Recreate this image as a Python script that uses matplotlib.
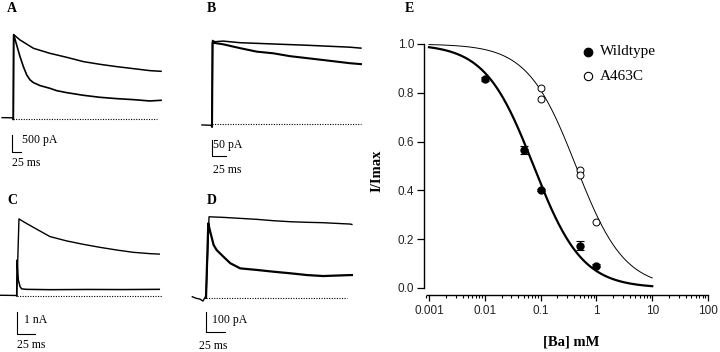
import matplotlib.pyplot as plt
from matplotlib.lines import Line2D
import numpy as np

plt.rcParams['font.family'] = ['Liberation Serif', 'DejaVu Serif']

# ---------------- traces (time in ms, current in pA) ----------------
# A
a_pre_t = [-30, -3, 0]
a_pre_i = [50, 45, 0]
a_slow_t = [0, 1, 18, 54, 98, 143, 188, 232, 277, 322, 366, 396]
a_slow_i = [0, 2540, 2380, 2130, 1980, 1860, 1730, 1650, 1580, 1520, 1460, 1440]
a_fast_t = [0, 1, 9, 18, 27, 36, 45, 54, 72, 98, 116, 143, 188, 232, 277, 322, 366, 396]
a_fast_i = [0, 2540, 2230, 1880, 1580, 1330, 1180, 1100, 1010, 930, 860, 800, 720, 660, 620, 590, 550, 570]
a_base_end = 385

# B
b_pre_t = [-18, -2, 0]
b_pre_i = [-2, -3, -7]
b_upper_t = [0, 1, 5, 20, 50, 109, 170, 246, 266]
b_upper_i = [-7, 262, 258, 260, 255, 251, 247, 241, 238]
b_lower_t = [0, 1, 5, 20, 50, 80, 109, 139, 198, 246, 266]
b_lower_i = [-7, 255, 254, 250, 238, 227, 222, 213, 201, 191, 188]
b_base_end = 266

# C
c_pre_t = [-24, -1, 0]
c_pre_i = [20, 10, 0]
c_upper_t = [0, 3.2, 9.3, 23.4, 47, 70.5, 94, 117, 141, 164, 188, 201]
c_upper_i = [0, 3380, 3260, 3010, 2600, 2410, 2260, 2130, 2010, 1910, 1850, 1830]
c_lower_t = [0, 0.5, 2.3, 4.7, 7, 14, 47, 100, 150, 201]
c_lower_i = [0, 1570, 690, 400, 300, 280, 265, 275, 270, 280]
c_base_end = 205

# D
d_pre_t = [-18, -13, -8, -4, -1, 0]
d_pre_i = [5, -3, -7, -17, 3, 0]
d_upper_t = [0, 4, 23, 45, 67, 89, 111, 133, 154, 190, 192]
d_upper_i = [0, 411, 408, 403, 398, 391, 386, 383, 381, 374, 372]
d_lower_t = [0, 3, 5, 10, 14, 23, 32, 45, 67, 89, 111, 133, 154, 190, 192]
d_lower_i = [0, 378, 344, 268, 242, 208, 175, 149, 141, 132, 124, 115, 110, 115, 115]
d_base_end = 186

# ---------------- dose response (E) ----------------
wt_conc = [0.01, 0.05, 0.1, 0.5, 1.0]
wt_frac = [0.855, 0.565, 0.402, 0.174, 0.092]
wt_err = [0.008, 0.015, 0.005, 0.018, 0.005]
mut_conc = [0.1, 0.1, 0.5, 0.5, 1.0]
mut_frac = [0.82, 0.775, 0.485, 0.465, 0.272]
wt_k, wt_n = 0.075, 1.0     # Hill fit
mut_k, mut_n = 0.43, 1.0
fit_range = (0.001, 10)

W, H = 720, 352
fig = plt.figure(figsize=(W / 100, H / 100), dpi=100)


def trace_axes(box, x0, y0, ms_px, pa_px):
    l, t, r, b = box
    ax = fig.add_axes([l / W, 1 - b / H, (r - l) / W, (b - t) / H])
    ax.set_xlim((l - x0) * ms_px, (r - x0) * ms_px)
    ax.set_ylim((y0 - b) * pa_px, (y0 - t) * pa_px)
    ax.axis('off')
    return ax


def draw_panel(ax, pre_t, pre_i, traces, base_end, bar, amp_txt, amp_off, time_off):
    ax.plot(pre_t, pre_i, color='k', lw=1.0)
    for t, i, lw in traces:
        ax.plot(t, i, color='k', lw=lw, solid_joinstyle='round')
    ax.plot([0, base_end], [0, 0], color='k', lw=0.8, linestyle=(0, (1, 1.3)))
    bx, by, amp = bar
    ax.plot([bx, bx, bx + 25], [by + amp, by, by], color='k', lw=0.8, clip_on=False)
    ax.annotate(amp_txt, xy=(bx, by), xytext=(amp_off[0] * 0.72, amp_off[1] * 0.72),
                textcoords='offset points', ha='left', va='center', fontsize=8.5,
                annotation_clip=False)
    ax.annotate('25 ms', xy=(bx, by), xytext=(time_off[0] * 0.72, time_off[1] * 0.72),
                textcoords='offset points', ha='left', va='center', fontsize=8.5,
                annotation_clip=False)


ax_a = trace_axes((0, 25, 175, 125), 13.3, 119.3, 2.68, 30)
draw_panel(ax_a, a_pre_t, a_pre_i,
           [(a_slow_t, a_slow_i, 1.1), (a_fast_t, a_fast_i, 1.2)],
           a_base_end, (-3.5, -970, 500), '500 pA', (9.7, 11.7), (0, -11.3))

ax_b = trace_axes((195, 25, 375, 130), 212, 124.3, 1.786, 3.125)
draw_panel(ax_b, b_pre_t, b_pre_i,
           [(b_upper_t, b_upper_i, 1.1), (b_lower_t, b_lower_i, 1.5)],
           b_base_end, (0.5, -100, 50), '50 pA', (1, 11), (0.4, -13.3))

ax_c = trace_axes((0, 205, 175, 300), 16.7, 295.7, 1.41, 44)
draw_panel(ax_c, c_pre_t, c_pre_i,
           [(c_upper_t, c_upper_i, 1.0), (c_lower_t, c_lower_i, 1.1)],
           c_base_end, (0.8, -1700, 1000), '1 nA', (6.7, 14.3), (0, -10.7))

ax_d = trace_axes((190, 205, 365, 302), 206, 297.7, 1.316, 5.08)
draw_panel(ax_d, d_pre_t, d_pre_i,
           [(d_upper_t, d_upper_i, 1.0), (d_lower_t, d_lower_i, 1.6)],
           d_base_end, (0, -175, 100), '100 pA', (5.7, 12.3), (-7, -13.4))

# panel letters
for letter, x, y in [('A', 7, 8), ('B', 207, 8), ('C', 7, 200), ('D', 207, 201), ('E', 405, 8)]:
    fig.text(x / W, 1 - y / H, letter, fontsize=10, fontweight='bold', ha='left', va='center')

# ---------------- panel E ----------------
ax = fig.add_axes([424 / W, 1 - 288 / H, 284 / W, 248 / H])
ax.set_xscale('log')
ax.set_xlim(10 ** (-3 - 5 / 55.8), 100)
ax.set_ylim(0, 248 / 244)

conc = np.logspace(np.log10(fit_range[0]), np.log10(fit_range[1]), 300)
ax.plot(conc, 1 / (1 + (conc / wt_k) ** wt_n), color='k', lw=1.6)
ax.plot(conc, 1 / (1 + (conc / mut_k) ** mut_n), color='k', lw=0.7)

ax.errorbar(wt_conc, wt_frac, yerr=wt_err, fmt='o', color='k', ms=5, capsize=3,
            elinewidth=0.8, capthick=0.8)
ax.plot(mut_conc, mut_frac, 'o', mfc='white', mec='k', mew=0.7, ms=5)

for s in ['top', 'right']:
    ax.spines[s].set_visible(False)
ax.spines['left'].set_bounds(0, 1)
ax.spines['bottom'].set_position(('outward', 5))
ax.spines['bottom'].set_bounds(10 ** (-3 - 2.3 / 55.8), 100)
for s in ['left', 'bottom']:
    ax.spines[s].set_linewidth(1.0)

ax.set_yticks([0, 0.2, 0.4, 0.6, 0.8, 1.0])
ax.set_yticklabels(['0.0', '0.2', '0.4', '0.6', '0.8', '1.0'])
ax.set_xticks([0.001, 0.01, 0.1, 1, 10, 100])
ax.set_xticklabels(['0.001', '0.01', '0.1', '1', '10', '100'])
ax.xaxis.set_minor_locator(plt.matplotlib.ticker.LogLocator(base=10, subs=np.arange(2, 10), numticks=20))
ax.xaxis.set_minor_formatter(plt.NullFormatter())
ax.tick_params(axis='y', direction='out', length=5, width=0.9, pad=2)
ax.tick_params(axis='x', which='major', direction='out', length=4.5, width=0.9, pad=3)
ax.tick_params(axis='x', which='minor', direction='out', length=2.5, width=0.8)
for lab in ax.get_xticklabels() + ax.get_yticklabels():
    lab.set_fontfamily(['Liberation Sans', 'DejaVu Sans'])
    lab.set_fontsize(8.5)
    lab.set_color('#222222')

fig.text(377 / W, 1 - 171 / H, 'I/Imax', rotation=90, fontsize=10.5, fontweight='bold',
         ha='center', va='center')
fig.text(571.5 / W, 1 - 341.7 / H, '[Ba] mM', fontsize=10.5, fontweight='bold',
         ha='center', va='center')

# legend
fig.add_artist(Line2D([588 / W], [1 - 52 / H], marker='o', color='k', ms=6, lw=0))
fig.add_artist(Line2D([588 / W], [1 - 76 / H], marker='o', mfc='white', mec='k', mew=0.8, ms=6, lw=0))
fig.text(600 / W, 1 - 52 / H, 'Wildtype', fontsize=11, ha='left', va='center')
fig.text(600 / W, 1 - 76 / H, 'A463C', fontsize=11, ha='left', va='center')

fig.savefig('out.png', dpi=100)
